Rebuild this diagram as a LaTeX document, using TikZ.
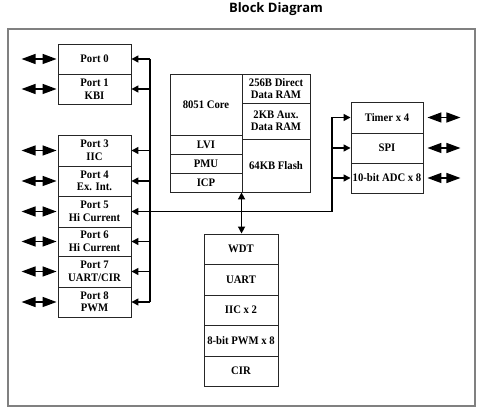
\documentclass[tikz,border=0pt]{standalone}
\usepackage{fontspec}
\setmainfont{Liberation Serif}[FakeStretch=0.93]
\newfontfamily\titlefont{Open Sans}
\usetikzlibrary{arrows.meta,calc}
\tikzset{
  cell/.style={draw=black!85, line width=0.9pt, inner sep=0pt, align=center,
    font=\bfseries\fontsize{11.5}{12.5}\selectfont},
  bus/.style={line width=1.4pt},
  arr/.style={line width=1.4pt, -{Triangle[length=7pt,width=7pt]}},
  dbl/.style={line width=1.4pt, {Triangle[length=14pt,width=10pt]}-{Triangle[length=14pt,width=10pt]}},
  vdbl/.style={line width=1.4pt, {Triangle[length=7pt,width=7pt]}-{Triangle[length=7pt,width=7pt]}},
}
\begin{document}
\begin{tikzpicture}[x=1pt,y=-1pt]
\useasboundingbox (0,0) rectangle (480,411);
\node[font=\titlefont\bfseries\fontsize{13}{15}\selectfont] (title) at (276,9.5) {Block Diagram};
\draw[draw=black!50, line width=1.6pt] (8,29) rectangle (475,406);

% ports
\node[cell, minimum width=73pt, minimum height=30pt] (p0) at (94.5,59) {Port 0};
\node[cell, minimum width=73pt, minimum height=30pt] (p1) at (94.5,89) {Port 1\\KBI};
\node[cell, minimum width=73pt, minimum height=31pt] (p3) at (94.5,150.5) {Port 3\\IIC};
\node[cell, minimum width=73pt, minimum height=30pt] (p4) at (94.5,181) {Port 4\\Ex. Int.};
\node[cell, minimum width=73pt, minimum height=31pt] (p5) at (94.5,211.5) {Port 5\\Hi Current};
\node[cell, minimum width=73pt, minimum height=29pt] (p6) at (94.5,241.5) {Port 6\\Hi Current};
\node[cell, minimum width=73pt, minimum height=31pt] (p7) at (94.5,271.5) {Port 7\\UART/CIR};
\node[cell, minimum width=73pt, minimum height=30pt] (p8) at (94.5,302) {Port 8\\PWM};

% bus
\coordinate (bt) at (150,59);
\coordinate (bb) at (150,302);
\draw[bus] (bt) -- (bb);
\foreach \p in {p0,p1,p3,p4,p5,p6,p7,p8}{
  \draw[arr] (\p.east -| bt) -- (\p.east);
  \draw[dbl] ($(\p.west)+(-36,0)$) -- ($(\p.west)+(-1,0)$);
}

% core
\node[cell, minimum width=72pt, minimum height=61pt, text depth=-8pt] (core) at (206,104.5) {8051 Core};
\node[cell, minimum width=72pt, minimum height=19pt] (lvi) at (206,144.5) {LVI};
\node[cell, minimum width=72pt, minimum height=19pt] (pmu) at (206,163.5) {PMU};
\node[cell, minimum width=72pt, minimum height=19pt] (icp) at (206,182.5) {ICP};
\node[cell, minimum width=68pt, minimum height=29pt] (dram) at (276,88.5) {256B Direct\\Data RAM};
\node[cell, minimum width=68pt, minimum height=36pt] (xram) at (276,121) {2KB Aux.\\Data RAM};
\node[cell, minimum width=68pt, minimum height=53pt] (flash) at (276,165.5) {64KB Flash};

% lower peripherals
\node[cell, minimum width=74pt, minimum height=30pt] (wdt) at (241,249) {WDT};
\node[cell, minimum width=74pt, minimum height=31pt] (uart) at (241,279.5) {UART};
\node[cell, minimum width=74pt, minimum height=30pt] (iic) at (241,310) {IIC x 2};
\node[cell, minimum width=74pt, minimum height=31pt] (pwm) at (241,340.5) {8-bit PWM x 8};
\node[cell, minimum width=74pt, minimum height=30pt] (cir) at (241,371) {CIR};

% right peripherals
\node[cell, minimum width=72pt, minimum height=31pt] (tmr) at (387,117.5) {Timer x 4};
\node[cell, minimum width=72pt, minimum height=30pt] (spi) at (387,148) {SPI};
\node[cell, minimum width=72pt, minimum height=30pt] (adc) at (387,178) {10-bit ADC x 8};

% connection bus -> right peripherals
\coordinate (rb) at (332,211.5);
\draw[bus] (p5.east -| bt) -- (rb) -- (rb |- tmr.west);
\foreach \q in {tmr,spi,adc}{
  \draw[arr] (\q.west -| rb) -- (\q.west);
  \draw[dbl] ($(\q.east)+(4,0)$) -- ($(\q.east)+(37,0)$);
}

% core <-> lower
\draw[vdbl] (flash.south west) -- (flash.south west |- wdt.north);
\end{tikzpicture}
\end{document}
